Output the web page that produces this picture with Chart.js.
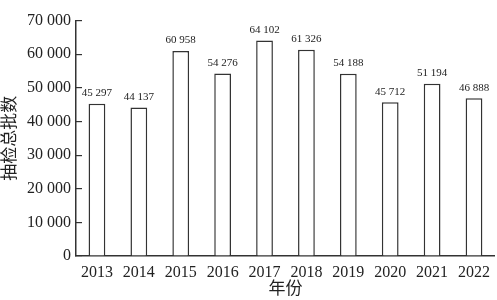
<!DOCTYPE html>
<html>
<head>
<meta charset="utf-8">
<script src="https://cdn.jsdelivr.net/npm/chart.js@4/dist/chart.umd.min.js"></script>
<style>
html,body{margin:0;padding:0;background:#fff;}
#wrap{width:497px;height:300px;position:relative;}
</style>
</head>
<body>
<div id="wrap"><canvas id="c" width="497" height="300"></canvas></div>
<script>
const years = ['2013','2014','2015','2016','2017','2018','2019','2020','2021','2022'];
const batches = [45297, 44137, 60958, 54276, 64102, 61326, 54188, 45712, 51194, 46888];
const yTicks = [0, 10000, 20000, 30000, 40000, 50000, 60000, 70000];
const xTitle = '年份';
const yTitle = '抽检总批数';

const FONT = '"Liberation Serif", "Times New Roman", "Noto Sans CJK SC", serif';
const fmt = v => String(v).replace(/\B(?=(\d{3})+(?!\d))/g, ' ');

const valueLabels = {
  id: 'valueLabels',
  afterDatasetsDraw(chart) {
    const ctx = chart.ctx;
    const meta = chart.getDatasetMeta(0);
    ctx.save();
    ctx.font = '11px ' + FONT;
    ctx.fillStyle = '#222';
    ctx.textAlign = 'center';
    ctx.textBaseline = 'bottom';
    meta.data.forEach((bar, i) => {
      ctx.fillText(fmt(batches[i]), bar.x, bar.y - 5);
    });
    ctx.restore();
  }
};

new Chart(document.getElementById('c'), {
  type: 'bar',
  data: {
    labels: years,
    datasets: [{
      data: batches,
      backgroundColor: '#ffffff',
      borderColor: '#333333',
      borderWidth: 1.5,
      barPercentage: 0.4,
      categoryPercentage: 1.0
    }]
  },
  options: {
    responsive: false,
    animation: false,
    layout: { padding: { top: 11, right: 0, bottom: 0, left: 0 } },
    plugins: { legend: { display: false }, tooltip: { enabled: false } },
    scales: {
      x: {
        grid: { display: false, drawTicks: false },
        border: { display: true, color: '#333', width: 1.5 },
        ticks: { color: '#222', font: { family: FONT, size: 16 }, padding: 7, maxRotation: 0 },
        title: { display: true, text: xTitle, color: '#222', font: { family: FONT, size: 17 }, padding: { top: 0, bottom: 0 } },
        afterFit(scale) { scale.height = 44; }
      },
      y: {
        min: 0, max: 70000,
        afterBuildTicks(scale) { scale.ticks = yTicks.map(v => ({ value: v })); },
        grid: { drawOnChartArea: false, drawTicks: true, tickLength: -6, color: '#333', lineWidth: 1.2 },
        border: { display: true, color: '#333', width: 1.5 },
        ticks: { color: '#222', font: { family: FONT, size: 16 }, padding: 11, callback: v => fmt(v) },
        title: { display: true, text: yTitle, color: '#222', font: { family: FONT, size: 17 }, padding: { top: 0, bottom: 0 } },
        afterFit(scale) { scale.width = 76; }
      }
    }
  },
  plugins: [valueLabels]
});
</script>
</body>
</html>
